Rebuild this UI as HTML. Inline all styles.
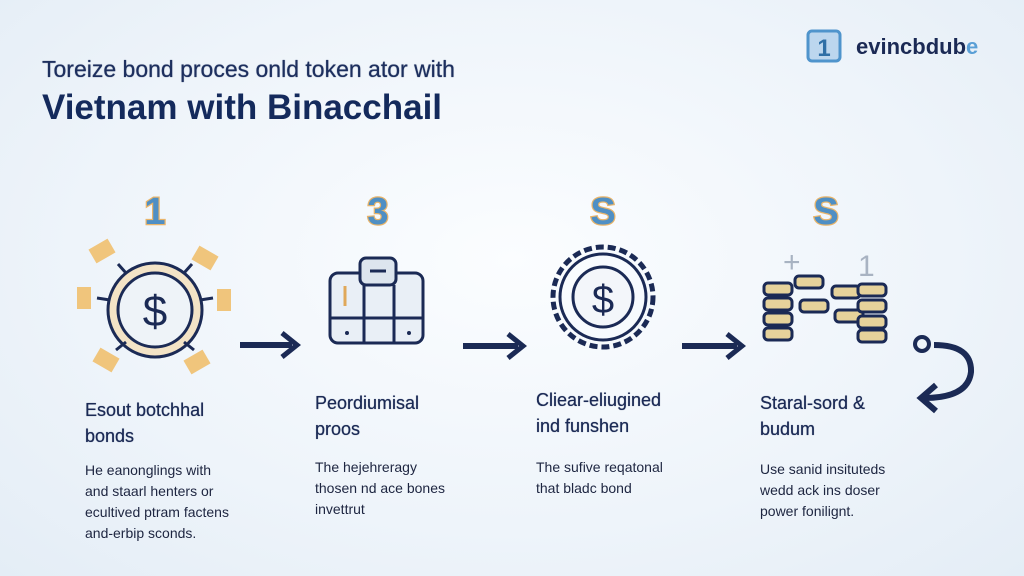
<!DOCTYPE html>
<html><head><meta charset="utf-8"><style>
body{margin:0;width:1024px;height:576px;overflow:hidden;background:radial-gradient(ellipse at 50% 45%,#fbfdff 0%,#eef4fa 60%,#e4edf6 100%);font-family:"Liberation Sans",sans-serif;color:#18284f;position:relative}
.t{position:absolute;white-space:nowrap}
.h{font-size:18px;line-height:26px;color:#1b2a55;text-shadow:0 0 0.6px #1b2a55}
.b{font-size:14px;line-height:21px;color:#1d2540}
</style></head><body>
<div class="t" style="left:42px;top:56px;font-size:23px;color:#1d2f5e;text-shadow:0 0 0.8px #1d2f5e">Toreize bond proces onld token ator with</div>
<div class="t" style="left:42px;top:88px;font-size:35px;font-weight:bold;color:#142a5c">Vietnam with Binacchail</div>
<svg class="t" style="left:805px;top:28px" width="40" height="40"><rect x="3" y="3" width="32" height="30" rx="4" fill="#bcd6ee" stroke="#4f94cc" stroke-width="3"/><text x="19" y="28" font-size="24" font-weight="bold" text-anchor="middle" fill="#2f6fa6" font-family="Liberation Sans">1</text></svg>
<div class="t" style="left:856px;top:34px;font-size:22px;font-weight:bold;color:#1b2a55">evincbdub<span style="color:#5a9fd6">e</span></div>

<svg class="t" style="left:0;top:0" width="1024" height="576" font-family="Liberation Sans">
<g font-size="38" font-weight="bold" text-anchor="middle" fill="#4f8fc4" stroke-width="2.5" paint-order="stroke">
<text x="155" y="224" stroke="#e8b46a">1</text>
<text x="378" y="224" stroke="#e8b46a">3</text>
<text x="603" y="224" stroke="#e8b46a">S</text>
<text x="826" y="224" stroke="#e8b46a">S</text>
</g>
<!-- icon1 -->
<g fill="#f0c57c">
<rect x="91" y="243" width="22" height="16" transform="rotate(-30 102 251)"/>
<rect x="194" y="250" width="22" height="16" transform="rotate(30 205 258)"/>
<rect x="77" y="287" width="14" height="22"/>
<rect x="217" y="289" width="14" height="22"/>
<rect x="95" y="352" width="22" height="16" transform="rotate(30 106 360)"/>
<rect x="186" y="354" width="22" height="16" transform="rotate(-30 197 362)"/>
</g>
<circle cx="155" cy="310" r="47" fill="#f3e3c6" stroke="#1b2a55" stroke-width="3"/>
<circle cx="155" cy="310" r="37" fill="#eef3f8" stroke="#1b2a55" stroke-width="3"/>
<text x="155" y="326" font-size="44" text-anchor="middle" fill="#1b2a55">$</text>
<g stroke="#1b2a55" stroke-width="3"><line x1="97" y1="298" x2="110" y2="300"/><line x1="200" y1="300" x2="213" y2="298"/><line x1="118" y1="264" x2="126" y2="273"/><line x1="192" y1="264" x2="184" y2="273"/><line x1="116" y1="350" x2="126" y2="342"/><line x1="194" y1="350" x2="184" y2="342"/></g>
<!-- icon2 -->
<rect x="330" y="273" width="93" height="70" rx="8" fill="#e9eff6" stroke="#1b2a55" stroke-width="3"/>
<line x1="330" y1="318" x2="423" y2="318" stroke="#1b2a55" stroke-width="3"/>
<line x1="364" y1="285" x2="364" y2="343" stroke="#1b2a55" stroke-width="3"/>
<line x1="394" y1="285" x2="394" y2="343" stroke="#1b2a55" stroke-width="3"/>
<rect x="360" y="258" width="36" height="27" rx="6" fill="#dde5ee" stroke="#1b2a55" stroke-width="3"/>
<line x1="370" y1="271" x2="386" y2="271" stroke="#1b2a55" stroke-width="3"/>
<line x1="345" y1="286" x2="345" y2="306" stroke="#e0a85a" stroke-width="3"/>
<circle cx="347" cy="333" r="2" fill="#1b2a55"/><circle cx="409" cy="333" r="2" fill="#1b2a55"/>
<!-- icon3 -->
<circle cx="603" cy="297" r="50" fill="none" stroke="#1b2a55" stroke-width="5" stroke-dasharray="8 4"/>
<circle cx="603" cy="297" r="43" fill="none" stroke="#1b2a55" stroke-width="3"/>
<circle cx="603" cy="297" r="30" fill="#f3f6fa" stroke="#1b2a55" stroke-width="3"/>
<text x="603" y="313" font-size="40" text-anchor="middle" fill="#1b2a55">$</text>
<!-- icon4 -->
<text x="783" y="272" font-size="30" fill="#a8b3c2">+</text>
<text x="858" y="276" font-size="30" fill="#a8b3c2">1</text>
<g fill="#e6d29b" stroke="#1b2a55" stroke-width="3">
<rect x="764" y="283" width="28" height="12" rx="4"/><rect x="764" y="298" width="28" height="12" rx="4"/><rect x="764" y="313" width="28" height="12" rx="4"/><rect x="764" y="328" width="28" height="12" rx="4"/>
<rect x="795" y="276" width="28" height="12" rx="4"/><rect x="800" y="300" width="28" height="12" rx="4"/>
<rect x="832" y="286" width="28" height="12" rx="4"/><rect x="835" y="310" width="28" height="12" rx="4"/>
<rect x="858" y="284" width="28" height="12" rx="4"/><rect x="858" y="300" width="28" height="12" rx="4"/><rect x="858" y="316" width="28" height="12" rx="4"/><rect x="858" y="330" width="28" height="12" rx="4"/>
</g>
<!-- arrows -->
<g stroke="#1b2a55" stroke-width="6" fill="none">
<line x1="240" y1="345" x2="292" y2="345"/><polyline points="282,333 297,345 282,357" stroke-width="5"/>
<line x1="463" y1="346" x2="518" y2="346"/><polyline points="508,334 523,346 508,358" stroke-width="5"/>
<line x1="682" y1="346" x2="737" y2="346"/><polyline points="727,334 742,346 727,358" stroke-width="5"/>
<path d="M934 345 Q972 345 971 372 Q968 398 924 398" stroke-width="6"/>
<polyline points="936,385 921,398 936,411" stroke-width="6"/>
<circle cx="922" cy="344" r="7" stroke-width="4"/>
</g>
</svg>

<div class="t h" style="left:85px;top:397px">Esout botchhal<br>bonds</div>
<div class="t h" style="left:315px;top:390px">Peordiumisal<br>proos</div>
<div class="t h" style="left:536px;top:387px">Cliear-eliugined<br>ind funshen</div>
<div class="t h" style="left:760px;top:390px">Staral-sord &amp;<br>budum</div>

<div class="t b" style="left:85px;top:460px">He eanonglings with<br>and staarl henters or<br>ecultived ptram factens<br>and-erbip sconds.</div>
<div class="t b" style="left:315px;top:457px">The hejehreragy<br>thosen nd ace bones<br>invettrut</div>
<div class="t b" style="left:536px;top:457px">The sufive reqatonal<br>that bladc bond</div>
<div class="t b" style="left:760px;top:459px">Use sanid insituteds<br>wedd ack ins doser<br>power fonilignt.</div>
</body></html>
